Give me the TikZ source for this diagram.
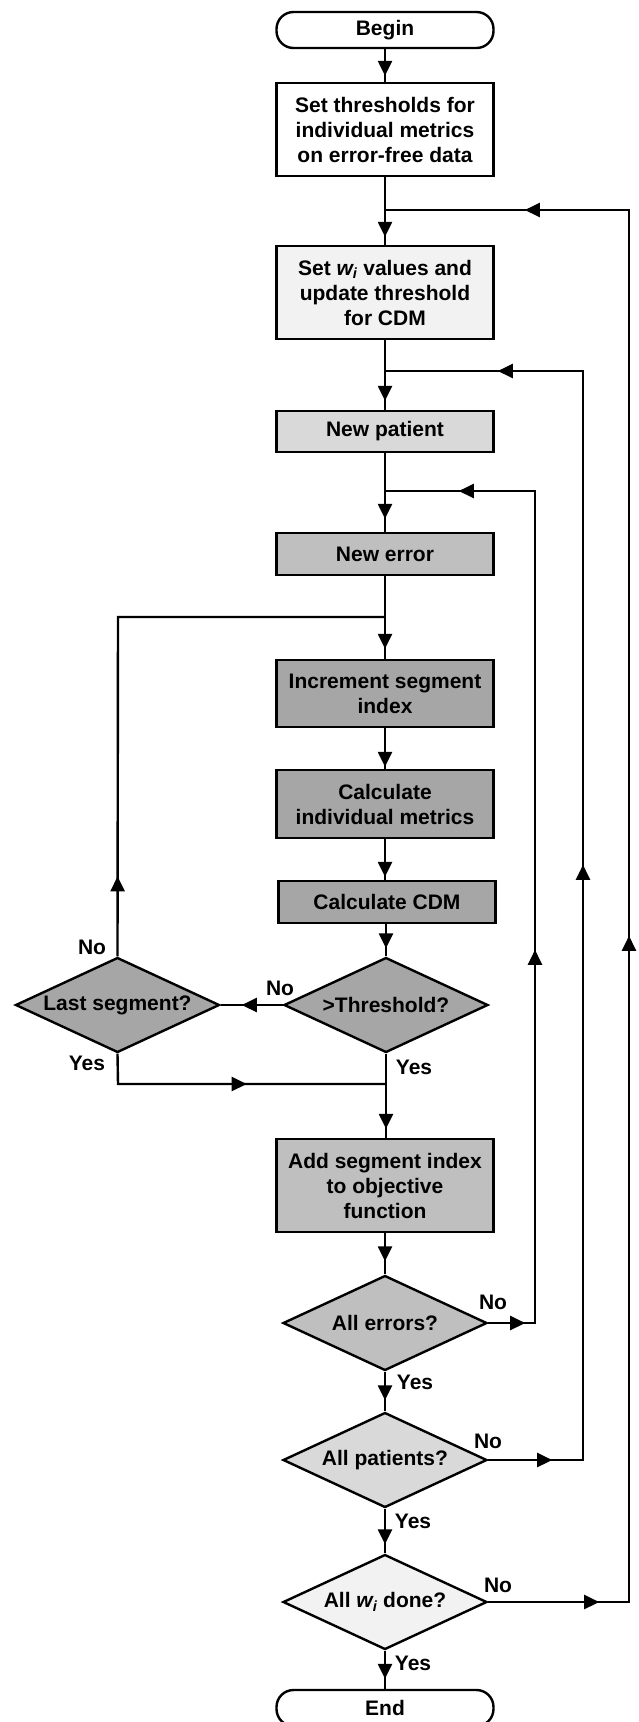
\documentclass[tikz,border=0pt]{standalone}
\usepackage{fontspec}
\setmainfont{Liberation Sans}
\usetikzlibrary{shapes.geometric,arrows.meta,decorations.markings}

\tikzset{
  box/.style={draw,line width=2.4pt,minimum width=217pt,align=center,inner sep=0pt},
  term/.style={box,rounded corners=17pt,minimum height=36pt},
  test/.style={draw,line width=2.4pt,diamond,shape aspect=2.15,inner sep=0pt,
               minimum width=204pt,minimum height=95pt,align=center},
  flow/.style={postaction={decorate},decoration={markings,mark=at position #1 with {\arrow{>}}}},
  loop/.style n args={3}{postaction={decorate},decoration={markings,
      mark=at position #1 with {\arrow{>}},
      mark=at position #2 with {\arrow{>}},
      mark=at position #3 with {\arrow{>}}}},
  lbl/.style={inner sep=0pt}
}

\begin{document}
\begin{tikzpicture}[x=1pt,y=-1pt,line width=2.4pt,>={Triangle[length=15pt,width=14pt]},
    font=\fontsize{21}{25}\selectfont\bfseries]
  \useasboundingbox (0,0) rectangle (638,1722);
  % main column
  \node[term]                              (begin)  at (385,30)     {Begin};
  \node[box,minimum height=93pt]           (thr)    at (385,129.5)  {Set thresholds for\\individual metrics\\on error-free data};
  \node[box,minimum height=93pt,fill=black!5]  (wset) at (385,292.5) {Set \textit{w\textsubscript{i}} values and\\update threshold\\for CDM};
  \node[box,minimum height=41pt,fill=black!15] (pat)  at (385,431.5) {New patient};
  \node[box,minimum height=42pt,fill=black!25] (err)  at (385,554)   {New error};
  \node[box,minimum height=67pt,fill=black!35] (inc)  at (385,693.5) {Increment segment\\index};
  \node[box,minimum height=68pt,fill=black!35] (calc) at (385,804)   {Calculate\\individual metrics};
  \node[box,minimum height=42pt,fill=black!35] (cdm)  at (387,902)   {Calculate CDM};
  \node[test,fill=black!35]                (thresh) at (386,1005)   {>Threshold?};
  \node[test,fill=black!35]                (last)   at (117.5,1005) {Last segment?};
  \node[box,minimum height=93pt,fill=black!25] (add)  at (385,1185.5) {Add segment index\\to objective\\function};
  \node[test,fill=black!25]                (allerr) at (385,1323)   {All errors?};
  \node[test,fill=black!15]                (allpat) at (385,1460)   {All patients?};
  \node[test,fill=black!5]                 (allw)   at (385,1602)   {All \textit{w\textsubscript{i}} done?};
  \node[term]                              (stop)   at (385,1708)   {End};
  % junctions on the main line and corners of the loops
  \coordinate (jw) at (385,210);   \coordinate (rw) at (629,210);
  \coordinate (jp) at (385,371);   \coordinate (rp) at (583,371);
  \coordinate (je) at (385,491);   \coordinate (re) at (535,491);
  \coordinate (js) at (385,617);   \coordinate (ls) at (118,617);
  \coordinate (jy) at (385,1084);  \coordinate (ly) at (118,1084);
  % straight flow
  \draw[flow=-6pt]  (begin.south) -- (thr.north);
  \draw[flow=-8pt]  (thr.south) -- (wset.north);
  \draw[flow=-9pt]  (wset.south) -- (pat.north);
  \draw[flow=-13pt] (pat.south) -- (err.north);
  \draw[flow=-10pt] (err.south) -- (inc.north);
  \draw[flow=-2pt]  (inc.south) -- (calc.north);
  \draw[flow=-3pt]  (calc.south) -- (calc.south |- cdm.north);
  \draw[flow=-8pt]  (cdm.south -| thresh.north) -- (thresh.north);
  \draw[flow=-9pt]  (thresh.south) -- (thresh.south |- add.north);
  \draw[flow=-13pt] (add.south) -- (allerr.north);
  \draw[flow=-11pt] (allerr.south) -- (allpat.north);
  \draw[flow=-9pt]  (allpat.south) -- (allw.north);
  \draw[flow=-10pt] (allw.south) -- (stop.north);
  % segment loop
  \draw[flow=41pt]  (thresh.west) -- (last.east);
  \draw[flow=80pt]  (last.north) -- (ls) -- (js);
  \draw[flow=159pt] (last.south) -- (ly) -- (jy);
  % outer loops
  \draw[loop={37pt}{420pt}{955pt}]   (allerr.east) -| (re) -- (je);
  \draw[loop={64pt}{690pt}{1269pt}]  (allpat.east) -| (rp) -- (jp);
  \draw[loop={111pt}{807pt}{1637pt}] (allw.east) -| (rw) -- (jw);
  % labels
  \node[lbl] (no1)  at (92,947)   {No};
  \node[lbl] (no2)  at (280,988)  {No};
  \node[lbl] (yes1) at (87,1063)  {Yes};
  \node[lbl] (yes2) at (414,1067) {Yes};
  \node[lbl] (no3)  at (493,1302) {No};
  \node[lbl] (yes3) at (415,1382) {Yes};
  \node[lbl] (no4)  at (488,1441) {No};
  \node[lbl] (yes4) at (413,1521) {Yes};
  \node[lbl] (no5)  at (498,1585) {No};
  \node[lbl] (yes5) at (413,1663) {Yes};
\end{tikzpicture}
\end{document}
